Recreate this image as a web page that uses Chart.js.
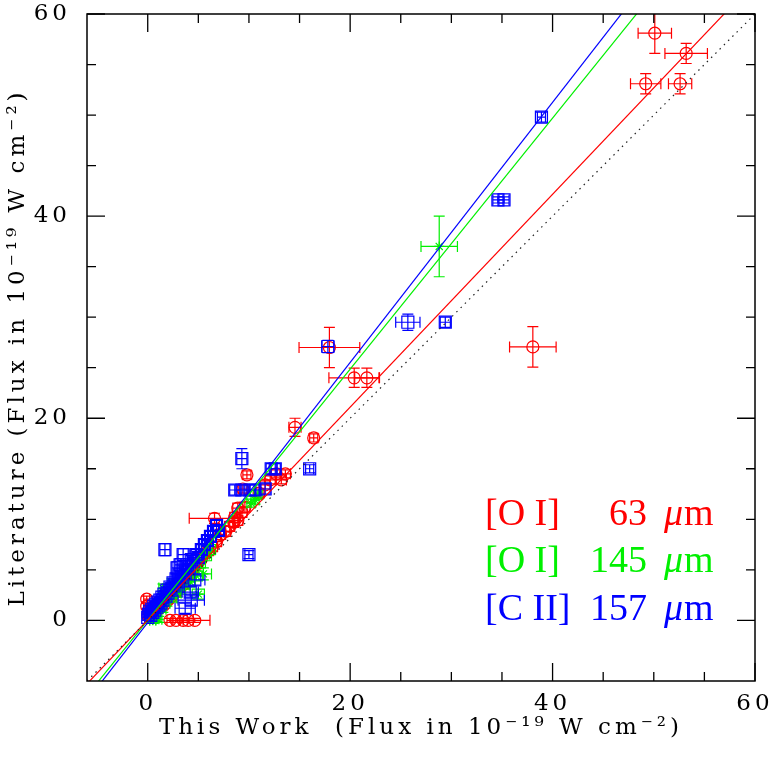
<!DOCTYPE html>
<html><head><meta charset="utf-8">
<script src="https://cdn.jsdelivr.net/npm/chart.js@4.4.1/dist/chart.umd.min.js"></script>
<style>html,body{margin:0;padding:0;background:#fff;}</style>
</head><body>
<canvas id="c" width="784" height="767"></canvas>
<script>
// ---- axis settings & texts ----
const axisMin = -6;
const axisMax = 60;
const xTitle = 'This Work  (Flux in 10⁻¹⁹ W cm⁻²)';
const yTitle = 'Literature (Flux in 10⁻¹⁹ W cm⁻²)';
const seriesNames = ['[O I]', '[O I]', '[C II]'];
const seriesWaves = ['63', '145', '157'];
const seriesColors = ['#ff0000', '#00f000', '#0000ff'];

// ---- [O I] 63 um ----
const oi63X = [0.0,0.1,0.2,0.4,0.6,0.7,0.9,1.1,1.3,1.5, 1.6,1.8,2.0,2.2,2.4,2.6,2.8,3.0,3.2,3.4, 3.6,3.9,4.1,4.4,4.6,4.9,5.3,5.6,6.0,6.4, 6.8,7.2,7.7,8.1,8.5,8.6,8.9,9.3,9.6,8.9, 6.6,-0.1,-0.1,2.2,2.8,3.5,4.0,4.65,9.8,9.4, 11.0,11.6,12.1,12.7,13.2,13.6,14.55,16.4,17.95,20.4, 21.65,38.05,49.2,52.6,50.1,53.2];
const oi63Y = [0.5,1.0,0.3,0.8,0.6,1.2,1.0,1.5,1.3,1.9, 1.5,2.3,2.0,2.7,2.4,3.1,2.8,3.5,3.3,4.0, 3.6,4.3,4.6,5.0,5.3,5.6,6.1,6.6,6.9,7.3, 7.8,8.5,8.8,9.3,9.7,10.2,11.1,10.7,11.2,9.9, 10.1,2.1,1.4,0,0,0,0,0,14.4,13.0, 12.6,13.4,13.9,14.5,13.9,14.5,19.1,18.05,27.0,24.0, 24.0,27.06,53.1,53.1,58.1,56.1];
const oi63XErr = [0.3,0.3,0.3,0.3,0.3,0.3,0.3,0.3,0.3,0.3, 0.3,0.4,0.3,0.4,0.3,0.4,0.4,0.4,0.4,0.4, 0.4,0.4,0.4,0.4,0.4,0.4,0.4,0.5,0.5,0.5, 0.5,0.5,0.5,0.5,0.5,0.5,0.5,0.5,0.5,0.5, 2.5,0.3,0.3,0.3,0.4,0.4,0.5,1.5,0.4,0.4, 0.5,0.5,0.5,0.5,0.5,0.5,0.6,0.4,3.0,2.5, 1.2,2.3,1.5,1.15,1.65,2.1];
const oi63YErr = [0.3,0.3,0.3,0.3,0.3,0.3,0.3,0.3,0.3,0.4, 0.3,0.4,0.3,0.4,0.3,0.4,0.4,0.4,0.4,0.4, 0.4,0.4,0.4,0.4,0.4,0.4,0.4,0.5,0.5,0.5, 0.5,0.5,0.5,0.5,0.5,0.5,0.5,0.5,0.5,0.5, 0.5,0.3,0.3,0.2,0.2,0.2,0.2,0.2,0.4,0.4, 0.4,0.4,0.4,0.4,0.4,0.4,0.9,0.4,2.0,0.95, 0.95,2.0,1.0,1.0,2.0,1.0];

// ---- [O I] 145 um ----
const oi145X = [0.2,0.5,0.8,1.1,0.3,0.6,1.0,1.3,1.5,1.7, 1.9,2.1,2.3,2.5,2.7,2.9,3.1,3.3,3.5,3.7, 4.0,4.2,4.5,4.8,5.0,5.5,5.2,5.8,6.2,1.5, 2.4,10.2,10.6,10.9,28.8];
const oi145Y = [0.1,0.0,0.2,0.1,0.6,1.0,1.3,1.6,1.1,2.1, 1.7,2.5,3.1,2.2,3.3,2.7,3.7,3.0,4.3,3.5, 4.5,3.8,5.1,4.4,2.6,4.6,5.7,6.4,7.0,3.2, 3.7,11.6,11.9,12.4,37.0];
const oi145XErr = [0.3,0.3,0.3,0.3,0.3,0.3,0.3,0.3,0.3,0.3, 0.3,0.4,0.4,0.4,0.4,0.4,0.4,0.4,0.4,0.4, 0.5,0.5,0.5,0.6,0.6,0.8,0.5,0.5,0.5,0.4, 0.4,0.4,0.4,0.4,1.8];
const oi145YErr = [0.3,0.3,0.3,0.3,0.3,0.3,0.3,0.3,0.3,0.3, 0.3,0.4,0.4,0.4,0.4,0.4,0.4,0.4,0.4,0.4, 0.5,0.5,0.5,0.5,0.5,0.6,0.5,0.5,0.5,0.4, 0.4,0.4,0.4,0.4,3.0];

// ---- [C II] 157 um ----
const ciiX = [0.0,0.1,0.2,0.3,0.4,0.5,0.6,0.7,0.8,0.9, 1.0,1.1,1.2,1.3,1.4,1.5,1.6,1.8,1.9,2.0, 2.2,2.3,2.5,2.6,2.8,3.0,3.1,3.3,3.5,3.7, 3.9,4.1,4.3,4.5,4.8,5.0,5.3,5.6,5.9,6.2, 6.5,6.8,7.0,3.2,3.5,2.9,4.2,4.3,3.7,4.65, 1.7,10.0,8.6,9.3,10.1,10.6,9.3,11.6,12.2,12.6, 16.0,17.8,25.7,29.4,34.6,35.2,38.9];
const ciiY = [0.3,0.6,0.9,0.5,1.1,0.8,1.4,1.0,1.6,1.3, 1.8,1.5,2.0,1.7,2.3,2.0,2.6,2.4,3.0,2.7, 3.3,3.0,3.7,3.4,4.1,3.8,4.5,4.2,5.0,4.7, 5.5,5.2,6.0,5.8,6.5,6.2,7.0,7.5,7.9,8.3, 8.8,9.4,8.9,5.5,6.5,5.2,2.8,2.0,1.2,4.0, 7.0,6.5,12.9,12.9,12.9,12.9,16.0,13.0,15.0,15.0, 15.0,27.1,29.5,29.5,41.6,41.6,49.8];
const ciiXErr = [0.3,0.3,0.3,0.3,0.3,0.3,0.3,0.3,0.3,0.3, 0.3,0.3,0.3,0.3,0.3,0.3,0.3,0.3,0.3,0.3, 0.4,0.4,0.4,0.4,0.4,0.4,0.4,0.4,0.4,0.4, 0.4,0.4,0.4,0.4,0.5,0.5,0.5,0.5,0.5,0.5, 0.5,0.5,0.5,0.5,0.5,0.5,0.8,1.3,1.0,1.0, 0.5,0.4,0.5,0.5,0.5,0.5,0.5,0.5,0.5,0.5, 0.4,0.6,1.2,0.5,0.5,0.5,0.4];
const ciiYErr = [0.3,0.3,0.3,0.3,0.3,0.3,0.3,0.3,0.3,0.3, 0.3,0.3,0.3,0.3,0.3,0.3,0.3,0.3,0.3,0.3, 0.4,0.4,0.4,0.4,0.4,0.4,0.4,0.4,0.4,0.4, 0.4,0.4,0.4,0.4,0.5,0.5,0.5,0.5,0.5,0.5, 0.5,0.5,0.5,0.6,0.6,0.6,0.5,0.5,0.5,0.5, 0.6,0.4,0.5,0.5,0.5,0.5,1.0,0.5,0.5,0.5, 0.4,0.6,0.8,0.5,0.3,0.3,0.5];

// ---- linear fits (slope, intercept) per series ----
const fitSlopes = [1.053, 1.242, 1.287];
const fitIntercepts = [0.04, 0.02, -0.22];

// ---------------------------------------------------------------
const toPoints = (xs, ys) => xs.map((x, i) => ({x: x, y: ys[i]}));
const fitLine = (k) => [axisMin, axisMax].map(x => ({x: x, y: fitIntercepts[k] + fitSlopes[k] * x}));

const FONT = "'DejaVu Serif', 'Liberation Serif', serif";
const AXIS_FONT_SIZE = 23;

const errorBarPlugin = {
  id: 'errorBars',
  beforeDatasetDraw(chart, args) {
    const ds = chart.data.datasets[args.index];
    if (!ds.xErr) return;
    const xs = chart.scales.x, ys = chart.scales.y;
    const ctx = chart.ctx, a = chart.chartArea;
    ctx.save();
    ctx.beginPath();
    ctx.rect(a.left, a.top, a.right - a.left, a.bottom - a.top);
    ctx.clip();
    ctx.strokeStyle = ds.borderColor;
    ctx.lineWidth = 1.2;
    const cap = 5.5;
    ds.data.forEach((p, i) => {
      const px = xs.getPixelForValue(p.x), py = ys.getPixelForValue(p.y);
      const xl = xs.getPixelForValue(p.x - ds.xErr[i]);
      const xr = xs.getPixelForValue(p.x + ds.xErr[i]);
      const yt = ys.getPixelForValue(p.y + ds.yErr[i]);
      const yb = ys.getPixelForValue(p.y - ds.yErr[i]);
      ctx.beginPath();
      ctx.moveTo(xl, py); ctx.lineTo(xr, py);
      ctx.moveTo(xl, py - cap); ctx.lineTo(xl, py + cap);
      ctx.moveTo(xr, py - cap); ctx.lineTo(xr, py + cap);
      ctx.moveTo(px, yt); ctx.lineTo(px, yb);
      ctx.moveTo(px - cap, yt); ctx.lineTo(px + cap, yt);
      ctx.moveTo(px - cap, yb); ctx.lineTo(px + cap, yb);
      ctx.stroke();
    });
    ctx.restore();
  }
};

const framePlugin = {
  id: 'frame',
  beforeDraw(chart) { chart.ctx.letterSpacing = '4px'; },
  afterDraw(chart) {
    const ctx = chart.ctx, a = chart.chartArea;
    const xs = chart.scales.x, ys = chart.scales.y;
    ctx.save();
    ctx.strokeStyle = '#000';
    ctx.lineWidth = 1.5;
    ctx.strokeRect(a.left, a.top, a.right - a.left, a.bottom - a.top);
    ctx.lineWidth = 1.3;
    ctx.beginPath();
    xs.ticks.forEach(t => {
      if (t.value % 5 !== 0) return;
      const len = t.value % 20 === 0 ? 18 : 9;
      const p = xs.getPixelForValue(t.value);
      ctx.moveTo(p, a.bottom); ctx.lineTo(p, a.bottom - len);
      ctx.moveTo(p, a.top); ctx.lineTo(p, a.top + len);
    });
    ys.ticks.forEach(t => {
      if (t.value % 5 !== 0) return;
      const len = t.value % 20 === 0 ? 18 : 9;
      const p = ys.getPixelForValue(t.value);
      ctx.moveTo(a.left, p); ctx.lineTo(a.left + len, p);
      ctx.moveTo(a.right, p); ctx.lineTo(a.right - len, p);
    });
    ctx.stroke();

    // in-plot legend
    ctx.letterSpacing = '0px';
    ctx.textBaseline = 'alphabetic';
    const baseY = [525, 572, 620];
    for (let k = 0; k < 3; k++) {
      ctx.fillStyle = seriesColors[k];
      ctx.font = "38px 'Liberation Serif', serif";
      ctx.textAlign = 'left';
      ctx.fillText(seriesNames[k], 485, baseY[k]);
      ctx.textAlign = 'right';
      ctx.fillText(seriesWaves[k], 647, baseY[k]);
      ctx.textAlign = 'left';
      ctx.font = "italic 38px 'Liberation Serif', serif";
      ctx.fillText('μ', 664, baseY[k]);
      const w = ctx.measureText('μ').width;
      ctx.font = "38px 'Liberation Serif', serif";
      ctx.fillText('m', 664 + w + 1, baseY[k]);
    }
    ctx.restore();
  }
};

const pointDs = (label, xs, ys, xe, ye, color, style, radius, order) => ({
  label: label,
  data: toPoints(xs, ys),
  xErr: xe, yErr: ye,
  showLine: false,
  pointStyle: style,
  pointRadius: radius,
  pointHoverRadius: radius,
  pointBorderWidth: 1.2,
  borderColor: color,
  backgroundColor: 'rgba(0,0,0,0)',
  pointBackgroundColor: 'rgba(0,0,0,0)',
  order: order
});

const lineDs = (label, data, color, dash, order) => ({
  type: 'line',
  label: label,
  data: data,
  borderColor: color,
  borderWidth: 1.2,
  borderDash: dash,
  pointRadius: 0,
  fill: false,
  order: order
});

new Chart(document.getElementById('c'), {
  type: 'scatter',
  data: {
    datasets: [
      lineDs('1:1', [{x: axisMin, y: axisMin}, {x: axisMax, y: axisMax}], '#222', [1.5, 4.5], 1),
      lineDs('fit 63', fitLine(0), seriesColors[0], [], 1),
      lineDs('fit 145', fitLine(1), seriesColors[1], [], 1),
      lineDs('fit 157', fitLine(2), seriesColors[2], [], 1),
      pointDs('[C II] 157 μm', ciiX, ciiY, ciiXErr, ciiYErr, seriesColors[2], 'rect', 8.5, 2),
      pointDs('[O I] 145 μm', oi145X, oi145Y, oi145XErr, oi145YErr, seriesColors[1], 'star', 5, 3),
      pointDs('[O I] 63 μm', oi63X, oi63Y, oi63XErr, oi63YErr, seriesColors[0], 'circle', 6, 4)
    ]
  },
  options: {
    responsive: false,
    animation: false,
    devicePixelRatio: 1,
    events: [],
    layout: {padding: {left: 0, top: 14, right: 29, bottom: 0}},
    plugins: {legend: {display: false}, tooltip: {enabled: false}},
    scales: {
      x: {
        type: 'linear', min: axisMin, max: axisMax,
        grid: {display: false, drawTicks: false},
        border: {display: false},
        ticks: {
          stepSize: 5, autoSkip: false, maxRotation: 0, padding: 9,
          color: '#000', font: {family: FONT, size: AXIS_FONT_SIZE},
          callback: v => (v % 20 === 0 ? String(v) : '')
        },
        title: {display: true, text: xTitle, color: '#000', font: {family: FONT, size: AXIS_FONT_SIZE}, padding: {top: 0, bottom: 25}},
        afterFit: s => { s.height = 86; s.paddingLeft = 0; s.paddingRight = 0; }
      },
      y: {
        type: 'linear', min: axisMin, max: axisMax,
        grid: {display: false, drawTicks: false},
        border: {display: false},
        ticks: {
          stepSize: 5, autoSkip: false, padding: 16,
          color: '#000', font: {family: FONT, size: AXIS_FONT_SIZE},
          callback: v => (v % 20 === 0 ? String(v) : '')
        },
        title: {display: true, text: yTitle, color: '#000', font: {family: FONT, size: AXIS_FONT_SIZE}, padding: {top: 4, bottom: 0}},
        afterFit: s => { s.width = 87; s.paddingTop = 0; s.paddingBottom = 0; }
      }
    }
  },
  plugins: [errorBarPlugin, framePlugin]
});
</script>
</body></html>
